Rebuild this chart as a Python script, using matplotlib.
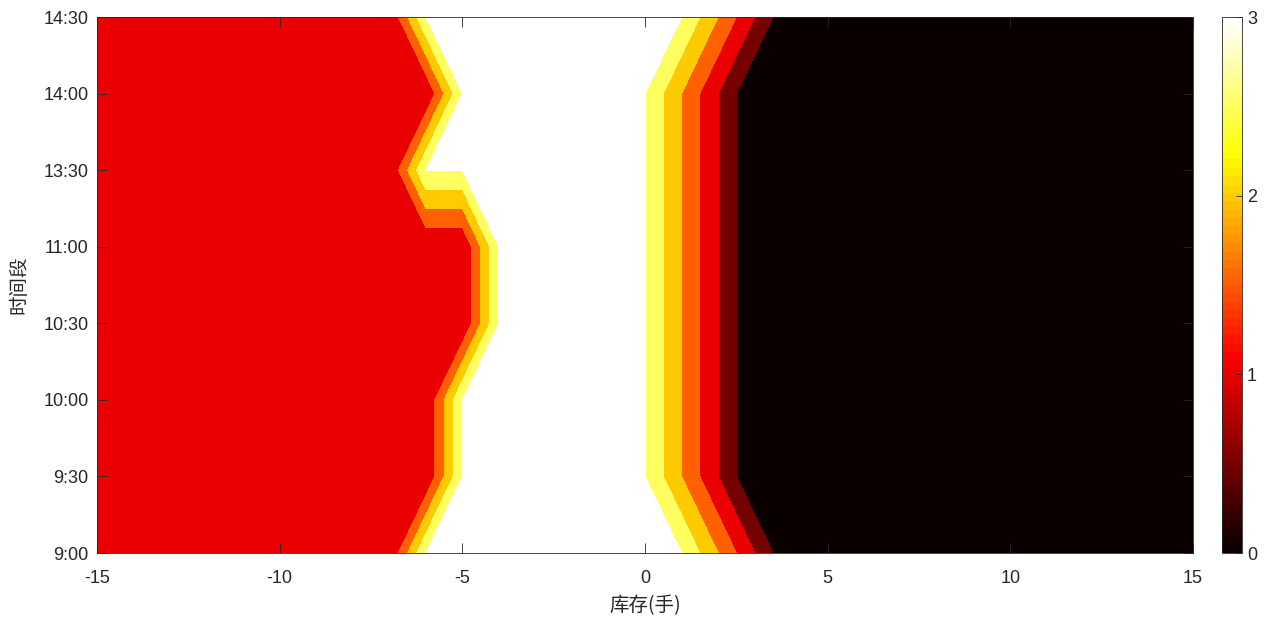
import numpy as np
import matplotlib.pyplot as plt
from matplotlib.colors import ListedColormap

plt.rcParams['font.family'] = ['Liberation Sans', 'Noto Sans CJK SC', 'DejaVu Sans']

# 库存 (x) 与时间段 (y)
inventory = list(range(-15, 16))
time_labels = ['9:00', '9:30', '10:00', '10:30', '11:00', '13:30', '14:00', '14:30']

# 每个时间段在各库存水平上的取值
row_0900 = [1, 1, 1, 1, 1, 1, 1, 1, 1, 3, 3, 3, 3, 3, 3, 3, 3, 2, 1, 0, 0, 0, 0, 0, 0, 0, 0, 0, 0, 0, 0]
row_0930 = [1, 1, 1, 1, 1, 1, 1, 1, 1, 1, 3, 3, 3, 3, 3, 3, 2, 1, 0, 0, 0, 0, 0, 0, 0, 0, 0, 0, 0, 0, 0]
row_1000 = [1, 1, 1, 1, 1, 1, 1, 1, 1, 1, 3, 3, 3, 3, 3, 3, 2, 1, 0, 0, 0, 0, 0, 0, 0, 0, 0, 0, 0, 0, 0]
row_1030 = [1, 1, 1, 1, 1, 1, 1, 1, 1, 1, 1, 3, 3, 3, 3, 3, 2, 1, 0, 0, 0, 0, 0, 0, 0, 0, 0, 0, 0, 0, 0]
row_1100 = [1, 1, 1, 1, 1, 1, 1, 1, 1, 1, 1, 3, 3, 3, 3, 3, 2, 1, 0, 0, 0, 0, 0, 0, 0, 0, 0, 0, 0, 0, 0]
row_1330 = [1, 1, 1, 1, 1, 1, 1, 1, 1, 3, 3, 3, 3, 3, 3, 3, 2, 1, 0, 0, 0, 0, 0, 0, 0, 0, 0, 0, 0, 0, 0]
row_1400 = [1, 1, 1, 1, 1, 1, 1, 1, 1, 1, 3, 3, 3, 3, 3, 3, 2, 1, 0, 0, 0, 0, 0, 0, 0, 0, 0, 0, 0, 0, 0]
row_1430 = [1, 1, 1, 1, 1, 1, 1, 1, 1, 3, 3, 3, 3, 3, 3, 3, 3, 2, 1, 0, 0, 0, 0, 0, 0, 0, 0, 0, 0, 0, 0]

Z = np.array([row_0900, row_0930, row_1000, row_1030, row_1100, row_1330, row_1400, row_1430], dtype=float)
X, Y = np.meshgrid(inventory, np.arange(len(time_labels)))

# MATLAB 风格的 hot(64) 色图
m = 64
n = int(3 / 8 * m)
r = np.concatenate([np.arange(1, n + 1) / n, np.ones(m - n)])
g = np.concatenate([np.zeros(n), np.arange(1, n + 1) / n, np.ones(m - 2 * n)])
b = np.concatenate([np.zeros(2 * n), np.arange(1, m - 2 * n + 1) / (m - 2 * n)])
hot64 = ListedColormap(np.column_stack([r, g, b]))

lower = np.arange(0, 3.01, 0.5)
levels = np.append(lower, 3.5) - 1e-6
band_colors = [hot64(v / 3) for v in lower]

fig = plt.figure(figsize=(12.78, 6.21), dpi=100)
ax = fig.add_axes([0.0759, 0.1095, 0.8576, 0.8631])
ax.contourf(X, Y, Z, levels=levels, colors=band_colors)

ax.set_xlim(-15, 15)
ax.set_ylim(0, len(time_labels) - 1)
ax.set_xticks([-15, -10, -5, 0, 5, 10, 15])
ax.set_xticklabels(['-15', '-10', '-5', '0', '5', '10', '15'])
ax.set_yticks(range(len(time_labels)))
ax.set_yticklabels(time_labels)
ax.tick_params(direction='in', length=7, width=0.6, color='#262626',
               labelsize=13, labelcolor='#262626', top=True, right=True)
ax.tick_params(axis='x', pad=12)
ax.tick_params(axis='y', pad=6)
for sp in ax.spines.values():
    sp.set_color('#262626')
    sp.set_linewidth(0.6)
ax.set_xlabel('库存(手)', fontsize=14, color='#262626',
              family=['Noto Sans CJK SC', 'DejaVu Sans'], labelpad=6)
ax.set_ylabel('时间段', fontsize=14, color='#262626',
              family=['Noto Sans CJK SC', 'DejaVu Sans'], labelpad=10)

cax = fig.add_axes([0.9562, 0.1095, 0.0157, 0.8631])
sm = plt.cm.ScalarMappable(cmap=hot64, norm=plt.Normalize(0, 3))
cb = fig.colorbar(sm, cax=cax, ticks=[0, 1, 2, 3])
cb.ax.tick_params(direction='in', length=4, width=0.6, color='#262626',
                  labelsize=13, labelcolor='#262626')
cb.outline.set_edgecolor('#262626')
cb.outline.set_linewidth(0.6)

fig.savefig('out.png', dpi=100)
